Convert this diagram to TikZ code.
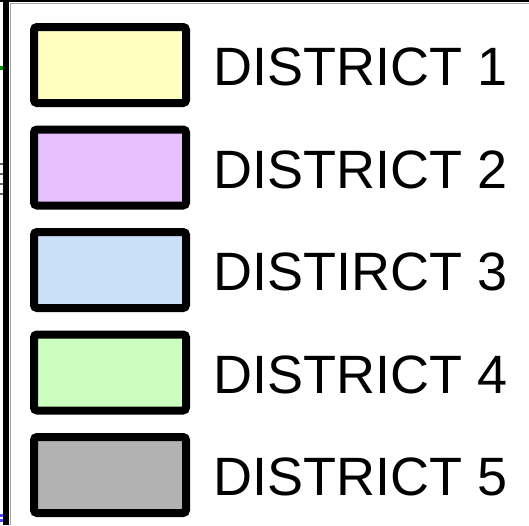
\documentclass[tikz,border=0pt]{standalone}
\usepackage{fontspec}
\setmainfont{Liberation Sans}
\definecolor{dyellow}{HTML}{FFFFBF}
\definecolor{dpurple}{HTML}{E6BFFF}
\definecolor{dblue}{HTML}{C9DFFA}
\definecolor{dgreen}{HTML}{CCFFBF}
\definecolor{dgray}{HTML}{B2B2B2}
\begin{document}
\begin{tikzpicture}[x=1pt,y=-1pt,
  swatch/.style={draw=black,line width=8pt,rounded corners=3pt},
  lbl/.style={anchor=base west,inner sep=0pt,font=\fontsize{54}{60}\selectfont}]
\useasboundingbox (0,0) rectangle (529,525);
\fill[white] (0,0) rectangle (529,525);
% frame lines
\fill[black] (0,0) rectangle (529,1.5);
\fill[black] (3,0) rectangle (8.5,525);
\fill[gray!70] (10,3) rectangle (11,525);
\fill[gray!70] (10,2.5) rectangle (529,3.5);
% small fragments at the left edge
\foreach \yy in {163,173,183,193} \fill[gray!80!black] (0,\yy) rectangle (3,\yy+2);
\fill[green!60!black] (0,66) rectangle (2.5,70);
\fill[blue!70] (0,514) rectangle (3,517);
\fill[blue!70] (0,519) rectangle (3,522);
% swatches
\foreach \i/\c/\t in {0/dyellow/DISTRICT 1,1/dpurple/DISTRICT 2,2/dblue/DISTIRCT 3,3/dgreen/DISTRICT 4,4/dgray/DISTRICT 5}{
  \pgfmathsetmacro{\top}{23+102.5*\i}
  \path[swatch,fill=\c] (34,\top+4) rectangle (186,\top+80);
  \node[lbl] (t\i) at (213.5,\top+62.5) {\t};
}
\end{tikzpicture}
\end{document}
